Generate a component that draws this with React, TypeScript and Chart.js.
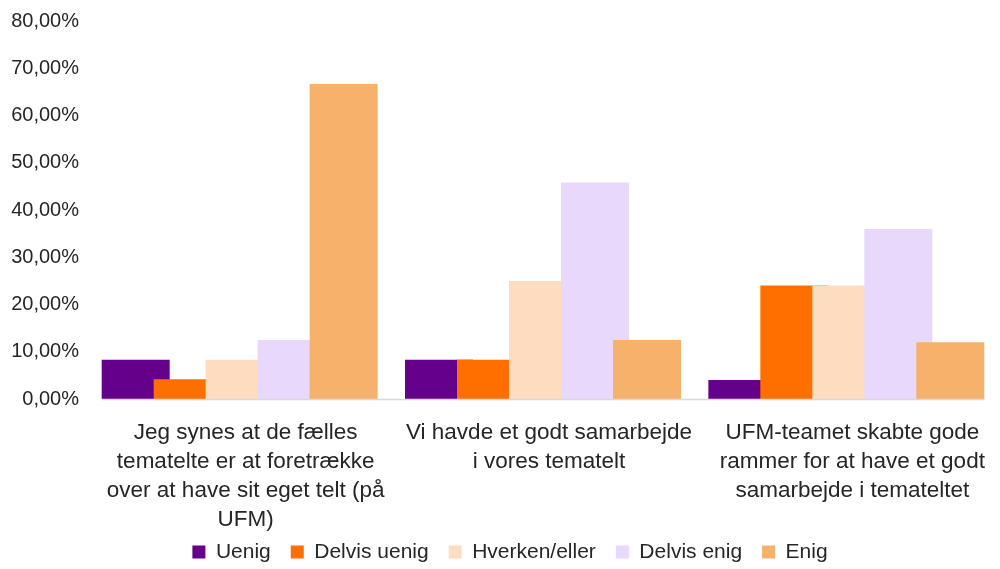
import React, { useEffect, useRef } from "react";
import { Chart, registerables } from "chart.js";

Chart.register(...registerables);

const categories: string[][] = [
  ["Jeg synes at de fælles", "tematelte er at foretrække", "over at have sit eget telt (på", "UFM)"],
  ["Vi havde et godt samarbejde", "i vores tematelt"],
  ["UFM-teamet skabte gode", "rammer for at have et godt", "samarbejde i temateltet"],
];

const seriesNames = ["Uenig", "Delvis uenig", "Hverken/eller", "Delvis enig", "Enig"];

const uenig = [8.33, 8.33, 4];
const delvisUenig = [4.17, 8.33, 24];
const hverkenEller = [8.33, 25, 24];
const delvisEnig = [12.5, 45.83, 36];
const enig = [66.67, 12.5, 12];

const seriesColors = ["#65008B", "#FF6F00", "#FDDCC0", "#E8D9FC", "#F6B26A"];

const yMin = 0;
const yMax = 80;
const yStep = 10;

const TEXT = "#262626";
const FONT = "'Liberation Sans', Arial, sans-serif";

const orderPlugin = {
  id: "drawOrder",
  afterLayout(chart: any) {
    const lg = chart.legend;
    if (lg) {
      lg.top -= 13.5;
      lg.bottom -= 13.5;
      lg.left += 11;
      lg.right += 11;
    }
  },
  beforeDatasetsDraw(chart: any) {
    const metas = chart.getSortedVisibleDatasetMetas();
    for (const meta of metas) meta.controller.draw();
    const first = metas[0].data[0];
    const lastMeta = metas[metas.length - 1];
    const last = lastMeta.data[lastMeta.data.length - 1];
    const y = chart.scales.y.getPixelForValue(0);
    const ctx = chart.ctx;
    ctx.save();
    ctx.strokeStyle = "#d9d9d9";
    ctx.lineWidth = 1.5;
    ctx.beginPath();
    ctx.moveTo(first.x - first.width / 2, y + 0.5);
    ctx.lineTo(last.x + last.width / 2, y + 0.5);
    ctx.stroke();
    ctx.restore();
    return false;
  },
};

export default function App() {
  const ref = useRef<HTMLCanvasElement | null>(null);
  useEffect(() => {
    if (!ref.current) return;
    const values = [uenig, delvisUenig, hverkenEller, delvisEnig, enig];
    const chart = new Chart(ref.current, {
      type: "bar",
      data: {
        labels: categories,
        datasets: seriesNames.map((name, i) => ({
          label: name,
          data: values[i],
          backgroundColor: seriesColors[i],
          borderWidth: 0,
          categoryPercentage: 0.857,
          barPercentage: 1.308,
        })),
      },
      options: {
        responsive: false,
        animation: false,
        layout: { padding: { top: 20, left: 0, right: 2, bottom: 0 } },
        plugins: {
          tooltip: { enabled: false },
          legend: {
            position: "bottom",
            labels: {
              boxWidth: 13,
              boxHeight: 13,
              padding: 20,
              color: TEXT,
              font: { family: FONT, size: 21 },
            },
          },
        },
        scales: {
          x: {
            grid: { display: false, drawTicks: false },
            border: { display: false },
            ticks: {
              color: TEXT,
              font: { family: FONT, size: 22.5, lineHeight: 1.29 },
              padding: 19,
              labelOffset: 6,
              maxRotation: 0,
              minRotation: 0,
              autoSkip: false,
            },
            afterFit(scale: any) {
              scale.height = 136;
            },
          },
          y: {
            min: yMin,
            max: yMax,
            grid: { display: false, drawTicks: false },
            border: { display: false },
            ticks: {
              stepSize: yStep,
              color: TEXT,
              padding: 9,
              font: { family: FONT, size: 20 },
              callback: (v: any) => `${Number(v).toFixed(2).replace(".", ",")}%`,
            },
            afterFit(scale: any) {
              scale.width = 88;
            },
          },
        },
      },
      plugins: [orderPlugin],
    });
    return () => chart.destroy();
  }, []);

  return (
    <div style={{ position: "fixed", left: 0, top: 0, width: 1000, height: 569, overflow: "hidden", background: "#fff" }}>
      <canvas ref={ref} width={1000} height={586} />
    </div>
  );
}
